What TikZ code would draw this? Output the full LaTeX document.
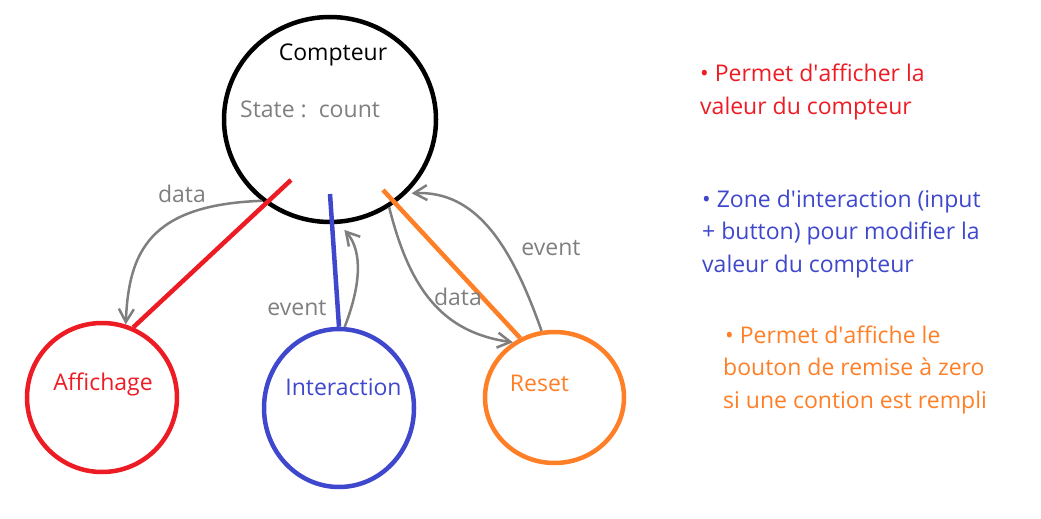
\documentclass[tikz,border=0pt]{standalone}
\usepackage{fontspec}
\setmainfont{Open Sans}
\usetikzlibrary{shapes.geometric,arrows.meta}
\definecolor{pRed}{RGB}{237,28,36}
\definecolor{pBlue}{RGB}{63,72,204}
\definecolor{pOrange}{RGB}{255,127,39}
\definecolor{pGray}{RGB}{127,127,127}
\begin{document}
\begin{tikzpicture}[x=1pt,y=-1pt,
    every node/.style={font=\fontsize{23}{32.5}\selectfont,inner sep=0pt},
    comp/.style={ellipse,draw,line width=4.5pt},
    wire/.style={line width=4.5pt},
    flow/.style={pGray,line width=2.5pt,-{Straight Barb[length=13pt,width=15pt]}},
    lbl/.style={pGray,anchor=base},
    note/.style={anchor=base west,align=left}]
  \useasboundingbox (0,0) rectangle (1041,519);
  \node[comp,minimum width=212pt,minimum height=205pt] (compteur) at (330,119.5) {};
  \node[comp,pRed,minimum width=150pt,minimum height=149pt] (affichage) at (102,397.5) {};
  \node[comp,pBlue,minimum width=150pt,minimum height=158pt] (interaction) at (339,408) {};
  \node[comp,pOrange,minimum width=139pt,minimum height=131pt] (reset) at (554.5,397.5) {};
  \node[anchor=base] (compteurTxt) at (333,60) {Compteur};
  \node[pGray,anchor=base west] (stateTxt) at (240,117) {State :~~count};
  \node[pRed,anchor=base] (affichageTxt) at (103,390) {Affichage};
  \node[pBlue,anchor=base] (interactionTxt) at (343.5,395) {Interaction};
  \node[pOrange,anchor=base] (resetTxt) at (539.5,391) {Reset};
  \coordinate (redIn) at (291,180);
  \coordinate (blueIn) at (330,194);
  \coordinate (orangeIn) at (383,190);
  \draw[wire,pRed] (redIn) -- (affichage.66);
  \draw[wire,pBlue] (blueIn) -- (interaction.90);
  \draw[wire,pOrange] (orangeIn) -- (reset.120);
  \draw[flow] (compteur.230) .. controls +(-113,4) and +(3,-72) .. (affichage.72);
  \draw[flow,shorten >=8pt] (interaction.86) .. controls +(20,-52) and +(20,23) .. (compteur.275);
  \draw[flow] (compteur.304) .. controls +(20,80) and +(-72,-10) .. (reset.127);
  \draw[flow,shorten >=5pt] (reset.101) .. controls +(-30,-85) and +(70,-3) .. (compteur.316);
  \node[lbl] (dataA) at (182,202) {data};
  \node[lbl] (eventI) at (297,315) {event};
  \node[lbl] (dataR) at (458,305) {data};
  \node[lbl] (eventR) at (551,255) {event};
  \node[note,pRed] (noteAff) at (700,114) {• Permet d\textquotesingle afficher la\\valeur du compteur};
  \node[note,pBlue] (noteInt) at (702,272) {• Zone d\textquotesingle interaction (input\\+ button) pour modifier la\\valeur du compteur};
  \node[note,pOrange] (noteRes) at (723,408) {\hspace{2pt}• Permet d\textquotesingle affiche le\\bouton de remise à zero\\si une contion est rempli};
\end{tikzpicture}
\end{document}
